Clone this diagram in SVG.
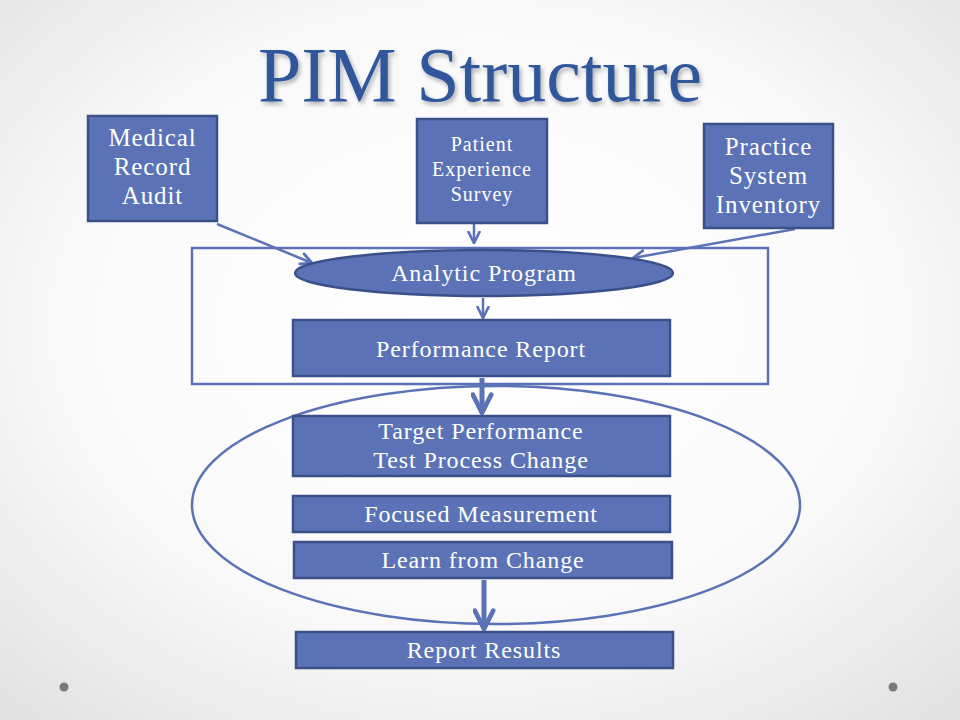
<svg xmlns="http://www.w3.org/2000/svg" width="960" height="720" viewBox="0 0 960 720">
<defs>
<radialGradient id="bg" cx="50%" cy="45%" r="72%">
<stop offset="0" stop-color="#ffffff"/>
<stop offset="0.6" stop-color="#f9f9f9"/>
<stop offset="1" stop-color="#e2e2e2"/>
</radialGradient>
<filter id="sh" x="-10%" y="-10%" width="120%" height="130%">
<feGaussianBlur in="SourceAlpha" stdDeviation="2"/>
<feOffset dx="2" dy="3" result="b"/>
<feComponentTransfer><feFuncA type="linear" slope="0.3"/></feComponentTransfer>
<feMerge><feMergeNode/><feMergeNode in="SourceGraphic"/></feMerge>
</filter>
<marker id="ah" viewBox="0 0 10 10" refX="9" refY="5" markerWidth="5.5" markerHeight="5.5" orient="auto" markerUnits="strokeWidth">
<path d="M1,1 L9,5 L1,9" fill="none" stroke="#5b73b6" stroke-width="2" stroke-linecap="round" stroke-linejoin="round"/>
</marker>
<marker id="ahb" viewBox="0 0 10 10" refX="9" refY="5" markerWidth="4.6" markerHeight="4.6" orient="auto" markerUnits="strokeWidth">
<path d="M1,1 L9,5 L1,9" fill="none" stroke="#5b73b6" stroke-width="2" stroke-linecap="round" stroke-linejoin="round"/>
</marker>
</defs>
<style>
.box{fill:#5b73b6;stroke:#3b5089;stroke-width:2.5}
.t{font-family:"Liberation Serif","DejaVu Serif",serif;fill:#ffffff;text-anchor:middle;letter-spacing:0.9px}
.c{fill:none;stroke:#5b73b6;stroke-width:2.5}
.ck{fill:none;stroke:#5b73b6;stroke-width:5}
</style>
<rect width="960" height="720" fill="url(#bg)"/>
<text x="480" y="101" font-family="Liberation Serif,DejaVu Serif,serif" font-size="78" fill="#30579b" text-anchor="middle" filter="url(#sh)">PIM Structure</text>
<g id="container-rect"><rect x="192" y="248" width="576" height="136" fill="none" stroke="#5b73b6" stroke-width="2.5"/></g>
<g id="cycle-ellipse"><ellipse cx="496" cy="505" rx="304" ry="119" fill="none" stroke="#5b73b6" stroke-width="2.5"/></g>
<g id="connectors">
<line class="c" x1="217" y1="224" x2="312" y2="263" marker-end="url(#ah)"/>
<line class="c" x1="474" y1="224" x2="474" y2="243" marker-end="url(#ah)"/>
<line class="c" x1="795" y1="229" x2="633" y2="258" marker-end="url(#ah)"/>
<line class="c" x1="483" y1="298" x2="483" y2="318" marker-end="url(#ah)"/>
<line class="ck" x1="482" y1="378" x2="482" y2="413" marker-end="url(#ahb)"/>
<line class="ck" x1="484" y1="580" x2="484" y2="629" marker-end="url(#ahb)"/>
</g>
<g id="medical-record-audit"><rect class="box" x="88" y="116" width="129" height="105"/>
<text class="t" font-size="25"><tspan x="152.5" y="146">Medical</tspan><tspan x="152.5" y="175">Record</tspan><tspan x="152.5" y="204">Audit</tspan></text></g>
<g id="patient-experience-survey"><rect class="box" x="417" y="119" width="130" height="104"/>
<text class="t" font-size="20" style="letter-spacing:1px"><tspan x="482" y="151">Patient</tspan><tspan x="482" y="176">Experience</tspan><tspan x="482" y="201">Survey</tspan></text></g>
<g id="practice-system-inventory"><rect class="box" x="704" y="124" width="129" height="104"/>
<text class="t" font-size="25"><tspan x="768.5" y="155">Practice</tspan><tspan x="768.5" y="184">System</tspan><tspan x="768.5" y="213">Inventory</tspan></text></g>
<g id="analytic-program"><ellipse class="box" cx="484" cy="273" rx="189" ry="23"/>
<text class="t" font-size="24" x="484" y="281">Analytic Program</text></g>
<g id="performance-report"><rect class="box" x="293" y="320" width="377" height="56"/>
<text class="t" font-size="24" x="481" y="357">Performance Report</text></g>
<g id="target-performance"><rect class="box" x="293" y="416" width="377" height="60"/>
<text class="t" font-size="24"><tspan x="481" y="439">Target Performance</tspan><tspan x="481" y="468">Test Process Change</tspan></text></g>
<g id="focused-measurement"><rect class="box" x="293" y="496" width="377" height="36"/>
<text class="t" font-size="24" x="481" y="522">Focused Measurement</text></g>
<g id="learn-from-change"><rect class="box" x="294" y="542" width="378" height="36"/>
<text class="t" font-size="24" x="483" y="568">Learn from Change</text></g>
<g id="report-results"><rect class="box" x="296" y="632" width="377" height="36"/>
<text class="t" font-size="24" x="484" y="658">Report Results</text></g>
<circle cx="64" cy="687" r="4.5" fill="#7a7a7a"/>
<circle cx="893" cy="687" r="4.5" fill="#7a7a7a"/>
</svg>
